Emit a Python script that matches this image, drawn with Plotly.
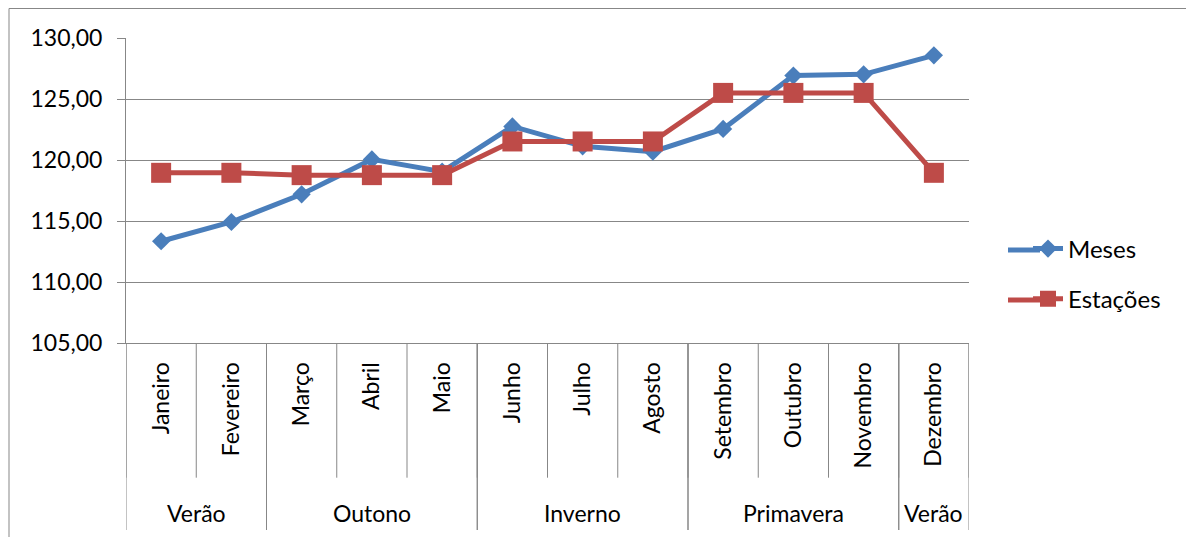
import plotly.graph_objects as go

# Monthly values and the seasonal averages they belong to
months = ["Janeiro", "Fevereiro", "Março", "Abril", "Maio", "Junho",
          "Julho", "Agosto", "Setembro", "Outubro", "Novembro", "Dezembro"]
seasons = ["Verão", "Verão", "Outono", "Outono", "Outono", "Inverno",
           "Inverno", "Inverno", "Primavera", "Primavera", "Primavera", "Verão"]
meses = [113.34, 114.92, 117.19, 120.05, 119.05, 122.75,
         121.12, 120.68, 122.55, 126.92, 127.02, 128.58]
estacoes = [118.95, 118.95, 118.76, 118.76, 118.76, 121.52,
            121.52, 121.52, 125.50, 125.50, 125.50, 118.95]

FONT = "Lato"
GRID = "#878787"
BLUE = "#4A7EBB"
RED = "#BE4B48"

W, H = 1186, 537
L, R, T, B = 126, 217, 38, 194
pw, ph = W - L - R, H - T - B

fig = go.Figure()
fig.add_trace(go.Scatter(
    x=months, y=meses, name="Meses", mode="lines+markers", legendgroup="a",
    line=dict(color=BLUE, width=5),
    marker=dict(symbol="diamond", size=14, color=BLUE, line=dict(width=0)),
))
fig.add_trace(go.Scatter(
    x=months, y=estacoes, name="Estações", mode="lines+markers", legendgroup="b",
    line=dict(color=RED, width=5),
    marker=dict(symbol="square", size=20, color=RED, line=dict(width=0)),
))

shapes = []
annotations = []

# month dividers below the axis
inner_bottom = -(477.7 - (T + ph)) / ph
for i in range(len(months) + 1):
    shapes.append(dict(type="line", xref="x", yref="paper",
                       x0=i - 0.5, x1=i - 0.5, y0=0, y1=inner_bottom,
                       line=dict(color=GRID, width=1)))

# season groups: longer dividers and centred labels
outer_bottom = -(530 - (T + ph)) / ph
label_y = -(512.7 - (T + ph)) / ph
start = 0
for i in range(1, len(seasons) + 1):
    if i == len(seasons) or seasons[i] != seasons[start]:
        for edge in (start - 0.5, i - 0.5):
            shapes.append(dict(type="line", xref="x", yref="paper",
                               x0=edge, x1=edge, y0=0, y1=outer_bottom,
                               line=dict(color=GRID, width=1)))
        annotations.append(dict(xref="x", yref="paper", x=(start + i - 1) / 2,
                                y=label_y, text=seasons[start], showarrow=False,
                                xanchor="center", yanchor="middle",
                                font=dict(family=FONT, size=23, color="black")))
        start = i

# longer legend keys: extend each legend line to the left
for ypix, col in ((250, BLUE), (300, RED)):
    yy = (T + ph - ypix) / ph
    shapes.append(dict(type="line", xref="paper", yref="paper",
                       x0=(1008 - L) / pw, x1=(1040 - L) / pw, y0=yy, y1=yy,
                       line=dict(color=col, width=5)))

# chart frame
shapes.append(dict(type="rect", xref="paper", yref="paper",
                   x0=(9 - L) / pw, x1=3, y0=-3, y1=1 + (T + 0.5 - 9) / ph,
                   line=dict(color=GRID, width=1), fillcolor="rgba(0,0,0,0)",
                   layer="below"))

fig.update_layout(
    width=W, height=H,
    margin=dict(l=L, r=R, t=T, b=B),
    paper_bgcolor="white", plot_bgcolor="white",
    separators=",.",
    font=dict(family=FONT, size=23, color="black"),
    shapes=shapes,
    annotations=annotations,
    legend=dict(x=(1028 - L) / pw, xanchor="left", y=(T + ph - 274) / ph,
                yanchor="middle", font=dict(family=FONT, size=24),
                tracegroupgap=16, bgcolor="rgba(0,0,0,0)"),
    xaxis=dict(range=[-0.5, len(months) - 0.5], showgrid=False, zeroline=False,
               showline=True, linecolor=GRID, linewidth=1, ticks="",
               tickangle=-90, ticklabelstandoff=9,
               tickfont=dict(family=FONT, size=23, color="black")),
    yaxis=dict(range=[105, 130], dtick=5, tickformat=".2f", showgrid=True,
               gridcolor=GRID, gridwidth=1, zeroline=False, showline=True,
               linecolor=GRID, linewidth=1, ticks="outside", ticklen=8,
               tickcolor=GRID, ticklabelstandoff=10,
               tickfont=dict(family=FONT, size=23, color="black")),
)

fig.write_html("out.html")
